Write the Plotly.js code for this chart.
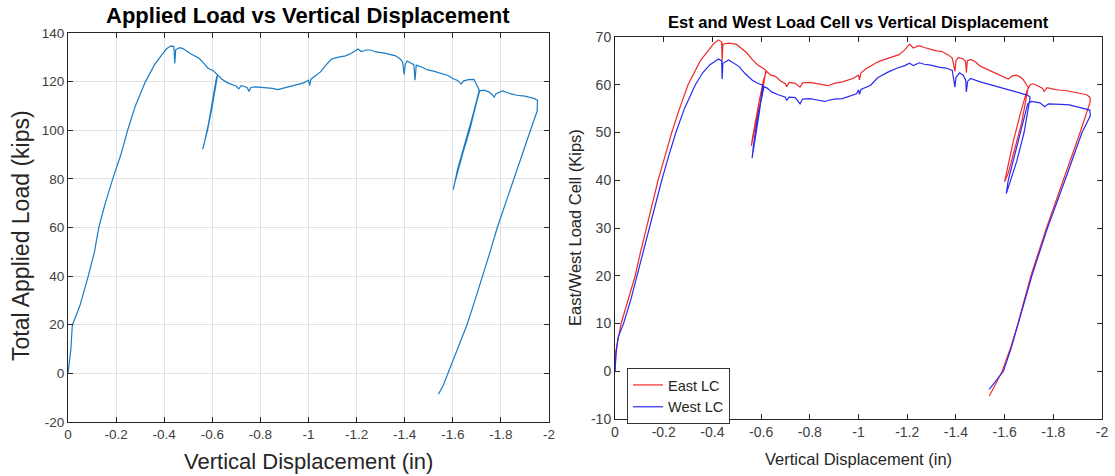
<!DOCTYPE html>
<html>
<head>
<meta charset="utf-8">
<script src="https://cdn.plot.ly/plotly-3.0.1.min.js"></script>
<style>html,body{margin:0;padding:0;background:#fff;}#chart{width:1115px;height:476px;}</style>
</head>
<body>
<div id="chart"></div>
<script>
// ---- Left chart: total applied load ----
const dispTotal = [0,-0.005,-0.012,-0.018,-0.05,-0.085,-0.11,-0.128,-0.155,-0.186,-0.22,-0.248,-0.28,-0.322,-0.36,-0.39,-0.41,-0.426,-0.44,-0.444,-0.448,-0.465,-0.478,-0.51,-0.545,-0.565,-0.582,-0.604,-0.614,-0.622,
 -0.60,-0.58,-0.56,-0.565,-0.585,-0.60,-0.618,-0.625,-0.64,-0.664,-0.68,-0.70,-0.71,-0.72,-0.735,-0.745,-0.753,-0.76,-0.78,-0.812,-0.85,-0.872,-0.9,-0.946,-0.98,-1.0,-1.005,-1.01,-1.03,-1.05,-1.07,-1.094,-1.12,-1.154,-1.18,-1.206,-1.22,-1.24,-1.258,-1.28,-1.317,-1.34,-1.362,-1.38,-1.391,-1.398,-1.402,-1.41,-1.425,-1.438,-1.443,-1.448,-1.47,-1.495,-1.52,-1.555,-1.58,-1.6,-1.62,-1.635,-1.645,-1.665,-1.688,-1.70,-1.71,
 -1.68,-1.65,-1.62,-1.602,-1.607,-1.64,-1.67,-1.70,-1.712,-1.73,-1.75,-1.765,-1.772,-1.78,-1.807,-1.83,-1.866,-1.9,-1.92,-1.94,-1.952,-1.951,-1.923,-1.888,-1.852,-1.818,-1.785,-1.755,-1.725,-1.692,-1.659,-1.62,-1.581,-1.56,-1.54];
const loadTotal = [0,5,10,19.8,28,40.3,50,60,70,80,90,100,110,120,127,131,133.5,134.6,134.5,127.5,133.2,134,133.6,131.5,129.6,127.5,125.5,124.5,123.5,122.7,
 110,100,92.2,94,103,112,122,122.5,121,119.5,118.8,118.1,117,118.3,118,117.5,116,117.6,117.8,117.6,117.2,116.7,117.5,118.5,119.5,120.6,118.5,121,122.5,124,126.5,129.2,130,130.6,131.8,133.4,132.4,133,133,132.2,131.7,131,130.6,129.4,128.2,123,127,128.5,127.8,127,120.6,126.8,126,124.8,124.3,123.4,122.5,121.3,120.5,119,120.3,120.8,120.9,118.5,116.5,
 105,95,84,75.6,78,90,100,112,116.2,116.5,115.8,114.5,113.6,115,116.2,115.3,114.4,114,113.6,113,112.3,108,100,90,80,70,60,50,40,30,20,10,0,-5,-8.6];

// ---- Right chart: East load cell ----
const dispEast = [0,-0.003,-0.025,-0.055,-0.083,-0.105,-0.129,-0.155,-0.177,-0.205,-0.233,-0.265,-0.30,-0.35,-0.38,-0.405,-0.425,-0.438,-0.44,-0.443,-0.465,-0.497,-0.52,-0.541,-0.565,-0.585,-0.607,-0.62,
 -0.60,-0.575,-0.56,-0.565,-0.59,-0.61,-0.622,-0.64,-0.657,-0.68,-0.70,-0.705,-0.715,-0.74,-0.76,-0.77,-0.80,-0.83,-0.861,-0.875,-0.90,-0.934,-0.977,-1.0,-1.004,-1.01,-1.03,-1.05,-1.08,-1.108,-1.14,-1.167,-1.19,-1.21,-1.225,-1.247,-1.27,-1.297,-1.32,-1.341,-1.37,-1.385,-1.396,-1.40,-1.41,-1.43,-1.44,-1.443,-1.447,-1.46,-1.48,-1.50,-1.53,-1.559,-1.58,-1.60,-1.615,-1.63,-1.647,-1.665,-1.676,-1.69,-1.697,
 -1.67,-1.64,-1.615,-1.60,-1.61,-1.635,-1.665,-1.69,-1.705,-1.715,-1.727,-1.745,-1.755,-1.762,-1.775,-1.79,-1.82,-1.85,-1.88,-1.91,-1.937,-1.95,-1.952,-1.91,-1.842,-1.772,-1.708,-1.655,-1.625,-1.59,-1.56,-1.537];
const loadEast = [0,4,10,15,20,25,30,35,40,45,50,55,60,65,67,68.6,69.4,69,64.9,68.5,68.7,68.5,67.6,66.7,65.2,64.2,63.5,63,
 57,51,47.2,49,56,61,62.8,62,61.8,60.8,60.2,59.6,60.5,60.3,59.5,60.4,60.5,60.2,59.9,59.8,60.3,60.6,61.3,62,61,62.5,63.3,63.9,64.8,65.3,65.8,66.3,67.3,68.5,67.7,68.2,67.8,67.4,67.1,67,66.2,65.6,62.8,65,65.7,65.4,64.8,62.5,65,65.3,64.8,63.9,63.2,62.5,62,61.5,61.2,61.8,62,61.6,61.1,60,59.5,
 52,46,41.5,39.7,42,48,54,58.5,60,60.2,60,59.6,59.3,58.6,59.4,59.2,58.9,58.8,58.5,58.3,57.9,57.4,56.5,50,40,30,20,10,5,0,-3,-5.2];

// ---- Right chart: West load cell ----
const dispWest = [0,-0.005,-0.012,-0.035,-0.065,-0.09,-0.115,-0.14,-0.165,-0.192,-0.22,-0.25,-0.285,-0.33,-0.36,-0.39,-0.425,-0.438,-0.44,-0.443,-0.467,-0.49,-0.51,-0.535,-0.563,-0.585,-0.607,
 -0.595,-0.575,-0.563,-0.568,-0.585,-0.605,-0.612,-0.625,-0.643,-0.67,-0.70,-0.705,-0.715,-0.74,-0.76,-0.77,-0.80,-0.83,-0.861,-0.875,-0.90,-0.934,-0.96,-0.992,-1.0,-1.004,-1.01,-1.05,-1.08,-1.123,-1.16,-1.19,-1.21,-1.225,-1.25,-1.27,-1.297,-1.33,-1.36,-1.385,-1.396,-1.40,-1.415,-1.43,-1.44,-1.443,-1.448,-1.46,-1.50,-1.54,-1.575,-1.61,-1.647,-1.675,-1.695,-1.705,
 -1.68,-1.65,-1.625,-1.607,-1.615,-1.64,-1.67,-1.695,-1.71,-1.727,-1.745,-1.755,-1.765,-1.78,-1.80,-1.83,-1.866,-1.90,-1.93,-1.95,-1.952,-1.918,-1.848,-1.776,-1.712,-1.658,-1.628,-1.595,-1.565,-1.537];
const loadWest = [0,4,7,10,15,20,25,30,35,40,45,50,55,60,62.5,64.2,65.4,65,61.2,64.5,65.2,64.5,63.8,62.3,61,60.3,59.9,
 55,49,44.6,47,53,58.5,59.6,59.3,58.5,57.9,57.4,56.7,57.4,57.3,56,57,57.1,56.8,56.5,56.7,57,57.1,57.6,58.1,58.9,58,59,59.9,61.5,62.7,63.5,64,64.5,64,64.6,64.3,64.1,63.7,63.5,63,59.5,61.5,62.5,62,61,58.5,60.7,61.3,60.6,60,59.5,58.9,58.5,58.1,57.8,57.4,
 50,44,40,37.2,40,45,51,56,56.5,56.4,56.2,55.8,55.4,56,56,55.9,55.8,55.3,55,54.7,53.5,50,40,30,20,10,5,0,-2,-3.8];

const xTickVals = [0,-0.2,-0.4,-0.6,-0.8,-1,-1.2,-1.4,-1.6,-1.8,-2];
const xTickText = ['0','-0.2','-0.4','-0.6','-0.8','-1','-1.2','-1.4','-1.6','-1.8','-2'];
const yTickValsL = [-20,0,20,40,60,80,100,120,140];
const yTickTextL = ['-20','0','20','40','60','80','100','120','140'];
const yTickValsR = [-10,0,10,20,30,40,50,60,70];
const yTickTextR = ['-10','0','10','20','30','40','50','60','70'];

const W = 1115, H = 476;
const px = v => v / W, py = v => 1 - v / H;
const FONT = 'Liberation Sans, Arial, sans-serif';

const axisCommon = {
  showline: true, linecolor: '#262626', linewidth: 1, mirror: 'ticks',
  ticks: 'inside', ticklen: 5, tickcolor: '#262626', zeroline: false,
  tickmode: 'array'
};

const traces = [
  {x: dispTotal, y: loadTotal, type: 'scatter', mode: 'lines', xaxis: 'x', yaxis: 'y',
   line: {color: '#1a7cc4', width: 1.2}, showlegend: false},
  {x: dispEast, y: loadEast, type: 'scatter', mode: 'lines', xaxis: 'x2', yaxis: 'y2',
   name: 'East LC', line: {color: '#f02a2a', width: 1.2}},
  {x: dispWest, y: loadWest, type: 'scatter', mode: 'lines', xaxis: 'x2', yaxis: 'y2',
   name: 'West LC', line: {color: '#2a2af0', width: 1.2}}
];

const layout = {
  width: W, height: H,
  margin: {l: 0, r: 0, t: 0, b: 0},
  paper_bgcolor: '#fff', plot_bgcolor: '#fff',
  font: {family: FONT, color: '#262626'},
  xaxis: Object.assign({}, axisCommon, {domain: [px(68), px(549)], range: [0, -2], anchor: 'y',
    tickvals: xTickVals, ticktext: xTickText, showgrid: true, gridcolor: '#e3e3e3',
    tickfont: {family: FONT, size: 13.5, color: '#404040'}}),
  yaxis: Object.assign({}, axisCommon, {domain: [py(422), py(33)], range: [-20, 140], anchor: 'x',
    tickvals: yTickValsL, ticktext: yTickTextL, showgrid: true, gridcolor: '#e3e3e3',
    tickfont: {family: FONT, size: 13.5, color: '#404040'}}),
  xaxis2: Object.assign({}, axisCommon, {domain: [px(615), px(1102)], range: [0, -2], anchor: 'y2',
    tickvals: xTickVals, ticktext: xTickText, showgrid: false,
    tickfont: {family: FONT, size: 14, color: '#404040'}}),
  yaxis2: Object.assign({}, axisCommon, {domain: [py(419), py(37)], range: [-10, 70], anchor: 'x2',
    tickvals: yTickValsR, ticktext: yTickTextR, showgrid: false,
    tickfont: {family: FONT, size: 14, color: '#404040'}}),
  showlegend: true,
  legend: {x: px(627), y: py(368), xanchor: 'left', yanchor: 'top',
    bgcolor: '#fff', bordercolor: '#333', borderwidth: 1,
    font: {family: FONT, size: 14.5, color: '#262626'},
    tracegroupgap: 0},
  annotations: [
    {text: '<b>Applied Load vs Vertical Displacement</b>', xref: 'paper', yref: 'paper',
     x: px(308), y: py(15), xanchor: 'center', yanchor: 'middle', showarrow: false,
     font: {size: 22, color: '#000'}},
    {text: 'Vertical Displacement (in)', xref: 'paper', yref: 'paper',
     x: px(308), y: py(461), xanchor: 'center', yanchor: 'middle', showarrow: false,
     font: {size: 22, color: '#262626'}},
    {text: 'Total Applied Load (kips)', xref: 'paper', yref: 'paper', textangle: -90,
     x: px(21), y: py(236), xanchor: 'center', yanchor: 'middle', showarrow: false,
     font: {size: 23, color: '#262626'}},
    {text: '<b>Est and West Load Cell vs Vertical Displacement</b>', xref: 'paper', yref: 'paper',
     x: px(858), y: py(22), xanchor: 'center', yanchor: 'middle', showarrow: false,
     font: {size: 16.5, color: '#000'}},
    {text: 'Vertical Displacement (in)', xref: 'paper', yref: 'paper',
     x: px(858), y: py(459), xanchor: 'center', yanchor: 'middle', showarrow: false,
     font: {size: 16.5, color: '#262626'}},
    {text: 'East/West Load Cell (Kips)', xref: 'paper', yref: 'paper', textangle: -90,
     x: px(575), y: py(228), xanchor: 'center', yanchor: 'middle', showarrow: false,
     font: {size: 16.5, color: '#262626'}}
  ]
};

Plotly.newPlot('chart', traces, layout, {displayModeBar: false, staticPlot: true});
</script>
</body>
</html>
